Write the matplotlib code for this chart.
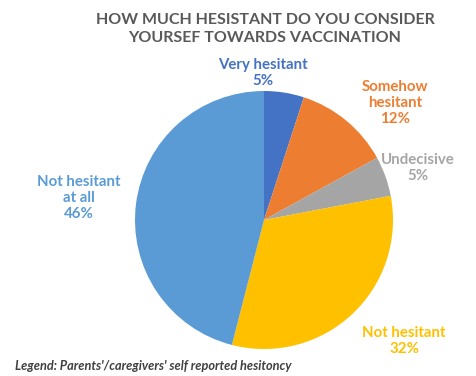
import matplotlib
matplotlib.use("Agg")
import matplotlib.pyplot as plt

categories = ["Very hesitant", "Somehow\nhesitant", "Undecisive", "Not hesitant", "Not hesitant\nat all"]
values = [5, 12, 5, 32, 46]
colors = ["#4472C4", "#ED7D31", "#A5A5A5", "#FFC000", "#5B9BD5"]
label_colors = ["#4472C4", "#ED7D31", "#A5A5A5", "#FFC000", "#5B9BD5"]
title = "HOW MUCH HESISTANT DO YOU CONSIDER\nYOURSEF TOWARDS VACCINATION"
note = "Legend: Parents'/caregivers' self reported hesitoncy"

W, H = 477, 376
fig = plt.figure(figsize=(W / 100, H / 100), dpi=100)
fig.patch.set_facecolor("white")

cx, cy, r = 264, 220, 129
ax = fig.add_axes([(cx - r) / W, (H - cy - r) / H, 2 * r / W, 2 * r / H])
wedges, _ = ax.pie(values, colors=colors, startangle=90, counterclock=False,
                   radius=1.0, wedgeprops=dict(linewidth=0))
ax.set_xlim(-1, 1)
ax.set_ylim(-1, 1)
ax.set_aspect("equal")
ax.axis("off")

# label positions (pixel centres)
label_pos = [(263, 73), (395, 103), (418, 168), (404, 341), (79, 198)]
for name, v, col, (x, y) in zip(categories, values, label_colors, label_pos):
    fig.text(x / W, 1 - y / H, f"{name}\n{v}%", ha="center", va="center",
             color=col, fontsize=10.8, fontweight="bold", family="Lato",
             linespacing=1.15)

fig.text(265 / W, 1 - 29 / H, title, ha="center", va="center",
         color="#595959", fontsize=11.5, fontweight="bold", family="Lato",
         linespacing=1.45)

fig.text(15 / W, 1 - 366 / H, note, ha="left", va="center",
         color="#404040", fontsize=9.2, fontweight="bold", style="italic",
         family="Lato")

fig.savefig("out.png", dpi=100, facecolor="white")
